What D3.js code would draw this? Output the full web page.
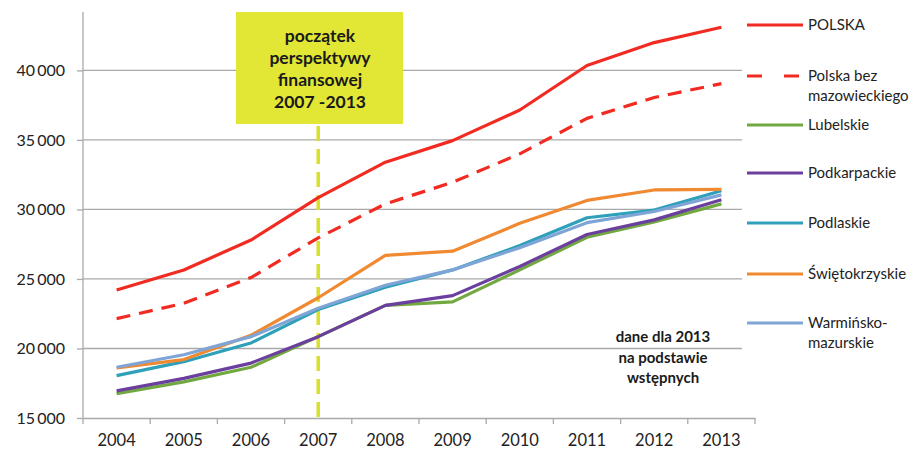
<!DOCTYPE html>
<html>
<head>
<meta charset="utf-8">
<script src="https://cdn.jsdelivr.net/npm/d3@7"></script>
<style>
  body { margin: 0; background: #fff; }
  svg { display: block; font-family: Lato, "Open Sans", sans-serif; }
</style>
</head>
<body>
<svg id="chart" width="914" height="452"></svg>
<script>
// data
var years = ["2004", "2005", "2006", "2007", "2008", "2009", "2010", "2011", "2012", "2013"];
var yTicks = [15000, 20000, 25000, 30000, 35000, 40000];

var polska = [24200, 25650, 27800, 30850, 33400, 34950, 37150, 40350, 42000, 43100];
var polskaBezMaz = [22150, 23250, 25100, 27950, 30400, 31950, 34000, 36550, 38050, 39050];
var lubelskie = [16750, 17600, 18650, 20850, 23100, 23350, 25650, 28000, 29100, 30400];
var podkarpackie = [16950, 17850, 18950, 20850, 23100, 23800, 25900, 28200, 29250, 30700];
var podlaskie = [18050, 19050, 20400, 22800, 24400, 25650, 27400, 29400, 29950, 31350];
var swietokrzyskie = [18600, 19200, 20950, 23650, 26700, 27000, 29000, 30650, 31400, 31450];
var warminsko = [18650, 19550, 20850, 22900, 24550, 25650, 27250, 29050, 29850, 31050];

var series = [
  {name: ["POLSKA"], values: polska, color: "#f22b22", dash: null},
  {name: ["Polska bez", "mazowieckiego"], values: polskaBezMaz, color: "#f22b22", dash: "14,9"},
  {name: ["Lubelskie"], values: lubelskie, color: "#72a840", dash: null},
  {name: ["Podkarpackie"], values: podkarpackie, color: "#6a3f9e", dash: null},
  {name: ["Podlaskie"], values: podlaskie, color: "#2ea0b9", dash: null},
  {name: ["Świętokrzyskie"], values: swietokrzyskie, color: "#ef8a33", dash: null},
  {name: ["Warmińsko-", "mazurskie"], values: warminsko, color: "#7ea5d6", dash: null}
];
var legendY = [25, 76, 125, 173, 223, 274, 323];

var svg = d3.select("#chart");
var plotL = 83, plotR = 755, plotT = 12, plotB = 418;

var x = d3.scaleBand().domain(years).range([plotL, plotR]);
var y = d3.scaleLinear().domain([15000, 44200]).range([plotB, plotT]);
var fmt = function(d) { return d3.format(",")(d).replace(",", "\u2009"); };

// gridlines
svg.append("g").selectAll("line")
  .data(yTicks.slice(1))
  .enter().append("line")
  .attr("x1", plotL).attr("x2", 742)
  .attr("y1", function(d) { return y(d); })
  .attr("y2", function(d) { return y(d); })
  .attr("stroke", "#a9a9a9").attr("stroke-width", 1.3);

// y axis
var yAxis = svg.append("g")
  .attr("transform", "translate(" + plotL + ",0)")
  .call(d3.axisLeft(y).tickValues(yTicks).tickSize(6).tickPadding(12).tickFormat(fmt));
yAxis.select(".domain").attr("stroke", "#a9a9a9").attr("stroke-width", 1.3)
  .attr("d", "M0," + plotT + "V" + plotB);
yAxis.selectAll(".tick line").attr("stroke", "#a9a9a9").attr("stroke-width", 1.3);
yAxis.selectAll("text").attr("font-size", 16).attr("fill", "#222").attr("font-family", "Lato, sans-serif");

// x axis
var xAxis = svg.append("g")
  .attr("transform", "translate(0," + plotB + ")")
  .call(d3.axisBottom(x).tickSize(0).tickPadding(16));
xAxis.select(".domain").attr("stroke", "#a9a9a9").attr("stroke-width", 1.3);
xAxis.selectAll("text").attr("font-size", 16.5).attr("fill", "#222").attr("font-family", "Lato, sans-serif");
xAxis.selectAll("line.bnd")
  .data(years.concat(["end"]))
  .enter().append("line").attr("class", "bnd")
  .attr("x1", function(d, i) { return plotL + i * x.bandwidth(); })
  .attr("x2", function(d, i) { return plotL + i * x.bandwidth(); })
  .attr("y1", 0).attr("y2", 6)
  .attr("stroke", "#a9a9a9").attr("stroke-width", 1.3);

// vertical marker at 2007
var mx = x("2007") + x.bandwidth() / 2;
svg.append("line")
  .attr("x1", mx).attr("x2", mx)
  .attr("y1", 126).attr("y2", plotB)
  .attr("stroke", "#d8df2c").attr("stroke-width", 3.5)
  .attr("stroke-dasharray", "15,8");

// lines
var line = d3.line()
  .x(function(d, i) { return x(years[i]) + x.bandwidth() / 2; })
  .y(function(d) { return y(d); });

svg.append("g").selectAll("path")
  .data(series)
  .enter().append("path")
  .attr("d", function(d) { return line(d.values); })
  .attr("fill", "none")
  .attr("stroke", function(d) { return d.color; })
  .attr("stroke-width", 3.2)
  .attr("stroke-linejoin", "round")
  .attr("stroke-dasharray", function(d) { return d.dash; });

// annotation box
svg.append("rect")
  .attr("x", 236).attr("y", 12).attr("width", 167).attr("height", 112)
  .attr("fill", "#e2e635");
var boxText = ["początek", "perspektywy", "finansowej", "2007 -2013"];
svg.append("g").selectAll("text")
  .data(boxText)
  .enter().append("text")
  .attr("x", 320)
  .attr("y", function(d, i) { return 42 + i * 22; })
  .attr("text-anchor", "middle")
  .attr("font-size", 17.5).attr("font-weight", "bold").attr("fill", "#1a1a1a")
  .text(function(d) { return d; });

// note
var note = ["dane dla 2013", "na podstawie", "wstępnych"];
svg.append("g").selectAll("text")
  .data(note)
  .enter().append("text")
  .attr("x", 663)
  .attr("y", function(d, i) { return 342 + i * 20.5; })
  .attr("text-anchor", "middle")
  .attr("font-size", 15).attr("font-weight", "bold").attr("fill", "#1a1a1a")
  .text(function(d) { return d; });

// legend
var lg = svg.append("g").selectAll("g")
  .data(series)
  .enter().append("g")
  .attr("transform", function(d, i) { return "translate(0," + legendY[i] + ")"; });
lg.append("line")
  .attr("x1", 747).attr("x2", 803).attr("y1", 0).attr("y2", 0)
  .attr("stroke", function(d) { return d.color; })
  .attr("stroke-width", 3.2)
  .attr("stroke-dasharray", function(d) { return d.dash ? "15,22" : null; });
lg.each(function(d) {
  var g = d3.select(this);
  d.name.forEach(function(t, j) {
    g.append("text")
      .attr("x", 808).attr("y", j * 20 + 5)
      .attr("font-size", 15).attr("fill", "#222")
      .text(t);
  });
});
</script>
</body>
</html>
